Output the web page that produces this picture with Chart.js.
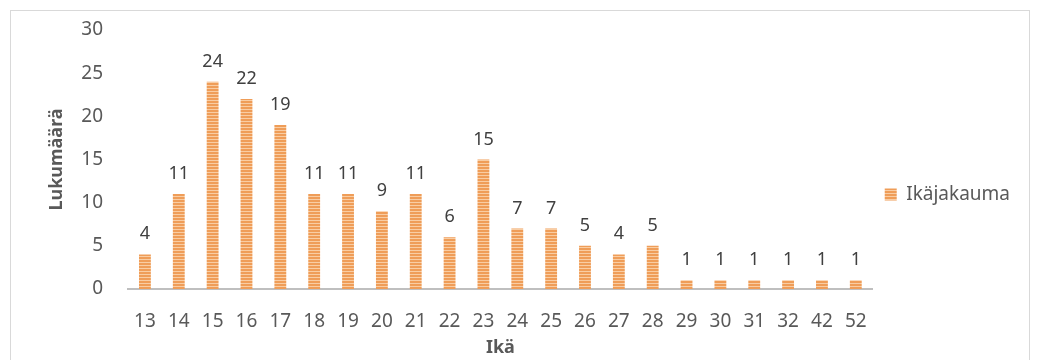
<!DOCTYPE html>
<html>
<head>
<meta charset="utf-8">
<script src="https://cdn.jsdelivr.net/npm/chart.js@4"></script>
<style>
  html, body { margin: 0; padding: 0; background: #fff; overflow: hidden; }
  #wrap { position: absolute; left: 10px; top: 10px; width: 1020px; height: 360px; border: 1px solid #d9d9d9; box-sizing: border-box; }
  #inner { position: relative; width: 1018px; height: 348px; }
</style>
</head>
<body>
<div id="wrap"><div id="inner"><canvas id="chart1"></canvas></div></div>
<script>
const ages = ['13', '14', '15', '16', '17', '18', '19', '20', '21', '22', '23', '24', '25', '26', '27', '28', '29', '30', '31', '32', '42', '52'];
const counts = [4, 11, 24, 22, 19, 11, 11, 9, 11, 6, 15, 7, 7, 5, 4, 5, 1, 1, 1, 1, 1, 1];
const yTicks = [0, 5, 10, 15, 20, 25, 30];

function stripePattern() {
  const c = document.createElement('canvas');
  c.width = 4; c.height = 3;
  const g = c.getContext('2d');
  g.fillStyle = '#ef9d58';
  g.fillRect(0, 0, 4, 3);
  g.fillStyle = '#f9cda3';
  g.fillRect(0, 2, 4, 1);
  return g.createPattern(c, 'repeat');
}

// value labels above the bars
const barLabels = {
  id: 'barLabels',
  afterDatasetsDraw(chart) {
    const ctx = chart.ctx;
    const meta = chart.getDatasetMeta(0);
    ctx.save();
    ctx.font = '18px "Noto Sans"';
    ctx.fillStyle = '#404040';
    ctx.textAlign = 'center';
    ctx.textBaseline = 'alphabetic';
    meta.data.forEach((bar, i) => {
      ctx.fillText(counts[i], bar.x, bar.y - 15);
    });
    ctx.restore();
  }
};

const fill = stripePattern();

new Chart(document.getElementById('chart1'), {
  type: 'bar',
  data: {
    labels: ages,
    datasets: [{
      label: 'Ikäjakauma',
      data: counts,
      backgroundColor: fill,
      borderWidth: 0,
      barPercentage: 0.35,
      categoryPercentage: 1
    }]
  },
  options: {
    responsive: true,
    maintainAspectRatio: false,
    animation: false,
    layout: { padding: { left: 35, right: 9, top: 19, bottom: 0 } },
    plugins: {
      tooltip: { enabled: false },
      legend: {
        position: 'right',
        labels: {
          boxWidth: 12,
          boxHeight: 12,
          padding: 12,
          color: '#595959',
          font: { family: 'Noto Sans', size: 19 }
        }
      }
    },
    scales: {
      x: {
        afterFit(scale) { scale.height = 70; },
        grid: { display: false, drawTicks: false },
        border: { color: '#bfbfbf', width: 2 },
        ticks: { color: '#595959', padding: 21, font: { family: 'Noto Sans', size: 19 } },
        title: { display: true, text: 'Ikä', color: '#595959', padding: { top: 0, bottom: 0 }, font: { family: 'Noto Sans', size: 18, weight: 'bold' } }
      },
      y: {
        min: 0,
        max: 30,
        afterFit(scale) { scale.width = 82; scale.paddingTop = 0; scale.paddingBottom = 0; },
        afterBuildTicks(scale) { scale.ticks = yTicks.map(v => ({ value: v })); },
        grid: { display: false, drawTicks: false },
        border: { display: false },
        ticks: { color: '#595959', padding: 25, font: { family: 'Noto Sans', size: 19 } },
        title: { display: true, text: 'Lukumäärä', color: '#595959', padding: { top: 0, bottom: 0 }, font: { family: 'Noto Sans', size: 18, weight: 'bold' } }
      }
    }
  },
  plugins: [barLabels]
});
</script>
</body>
</html>
